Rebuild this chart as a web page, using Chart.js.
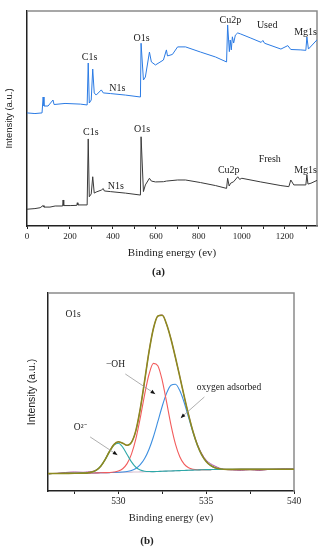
<!DOCTYPE html>
<html>
<head>
<meta charset="utf-8">
<script src="https://cdn.jsdelivr.net/npm/chart.js@4"></script>
<style>
  html, body { margin: 0; padding: 0; background: #fff; }
  canvas { position: absolute; left: 0; }
  #surveyChart { top: 0; }
  #o1sChart { top: 285px; }
</style>
</head>
<body>
<canvas id="surveyChart" width="326" height="285"></canvas>
<canvas id="o1sChart" width="326" height="265"></canvas>
<script>
// (a) survey spectra, binding energy (eV) vs intensity (a.u., 0-100)
const usedEnergy = [0, 37, 70, 75, 79, 98, 121, 126, 177, 248, 280, 285, 290, 299, 306, 313, 322, 346, 355, 388,
  458, 528, 531, 542, 551, 570, 579, 598, 635, 649, 654, 677, 701, 738, 808, 878, 929, 934, 942, 946,
  951, 956, 962, 970, 981, 995, 1042, 1090, 1098, 1106, 1182, 1214, 1228, 1275, 1298, 1303, 1310, 1354];
const usedIntensity = [52.6, 52.3, 52.6, 60.0, 55.8, 55.8, 58.6, 56.5, 57.0, 56.7, 56.3, 75.8, 57.2, 58.6, 73.0, 61.9, 60.9, 63.3, 61.9, 61.6,
  60.9, 60.0, 85.0, 67.9, 69.3, 80.9, 76.3, 74.9, 77.2, 81.9, 79.1, 79.8, 83.3, 83.3, 80.9, 78.6, 76.3, 93.5, 81.1, 86.5,
  81.9, 88.0, 85.1, 88.8, 89.8, 89.3, 87.4, 85.4, 86.3, 85.0, 82.3, 83.9, 82.1, 81.9, 81.7, 87.9, 82.3, 87.0];

const freshEnergy = [0, 37, 61, 75, 79, 107, 131, 166, 168, 171, 201, 232, 234, 237, 280, 285, 290, 299, 306, 313,
  322, 346, 355, 360, 388, 458, 528, 531, 542, 551, 570, 579, 598, 635, 649, 701, 738, 808, 878, 929,
  934, 941, 948, 962, 981, 990, 1000, 1088, 1182, 1219, 1228, 1242, 1298, 1303, 1308, 1322, 1354];
const freshIntensity = [7.8, 8.1, 8.5, 9.5, 8.8, 8.8, 9.3, 9.3, 12.1, 9.5, 9.5, 9.6, 10.8, 9.8, 9.8, 40.5, 13.6, 14.9, 22.9, 15.3,
  15.8, 16.7, 17.4, 16.3, 16.0, 15.3, 14.4, 41.5, 16.0, 19.1, 22.2, 20.9, 20.5, 20.6, 20.9, 21.4, 21.4, 20.2, 18.8, 17.5,
  22.2, 18.6, 19.9, 20.6, 22.9, 21.7, 22.2, 20.5, 18.8, 18.3, 21.4, 19.1, 19.1, 23.7, 19.5, 19.9, 21.4];

const surveyTickLabels = ["0", "200", "400", "600", "800", "1000", "1200"];

// (b) O1s region
const o1sEnergy = [526, 526.5, 527, 527.5,
  528, 528.25, 528.5, 528.75, 529, 529.25, 529.5, 529.75, 530, 530.25, 530.5, 530.75, 531, 531.25, 531.5, 531.75,
  532, 532.25, 532.5, 532.75, 533, 533.25, 533.5, 533.75, 534, 534.25, 534.5, 534.75, 535, 535.25, 535.5, 535.75, 536,
  536.5, 537, 537.5, 538, 538.5, 539, 539.5, 540];
const o1sRaw = [8.70, 8.95, 9.35, 9.60,
  9.45, 9.65, 9.85, 10.60, 12.40, 15.90, 20.10, 23.60, 24.70, 24.20, 23.00, 24.70, 30.40, 41.60, 55.50, 70.50,
  82.20, 88.20, 88.90, 84.10, 76.80, 67.40, 57.90, 47.70, 38.60, 30.20, 23.60, 18.90, 15.60, 13.80, 12.60, 11.60, 11.00,
  10.60, 10.40, 10.75, 10.35, 10.85, 11.10, 11.30, 11.20];
const o1sEnvelope = [8.80, 8.85, 8.90, 8.95,
  9.03, 9.17, 9.56, 10.52, 12.53, 15.85, 19.95, 23.43, 24.85, 24.13, 23.13, 24.56, 30.51, 41.41, 55.69, 70.36,
  82.07, 88.40, 88.76, 84.23, 76.64, 67.53, 57.75, 47.88, 38.44, 30.04, 23.24, 18.25, 14.93, 12.90, 11.79, 11.26, 11.02,
  10.90, 10.90, 10.92, 10.94, 10.95, 10.97, 10.98, 11.00];
const o1sBaseline = [8.80, 8.85, 8.90, 8.95,
  9.00, 9.05, 9.10, 9.15, 9.20, 9.25, 9.30, 9.35, 9.40, 9.45, 9.50, 9.55, 9.60, 9.65, 9.70, 9.75,
  9.80, 9.88, 9.97, 10.05, 10.13, 10.22, 10.30, 10.38, 10.47, 10.55, 10.63, 10.72, 10.80, 10.82, 10.83, 10.85, 10.86,
  10.88, 10.90, 10.92, 10.94, 10.95, 10.97, 10.98, 11.00];
const oxidePeak = [8.80, 8.85, 8.90, 8.95,
  9.03, 9.17, 9.56, 10.52, 12.53, 15.83, 19.89, 23.20, 24.14, 22.20, 18.48, 14.69, 11.99, 10.56, 9.98, 9.82,
  9.81, 9.88, 9.97, 10.05, 10.13, 10.22, 10.30, 10.38, 10.47, 10.55, 10.63, 10.72, 10.80, 10.82, 10.83, 10.85, 10.86,
  10.88, 10.90, 10.92, 10.94, 10.95, 10.97, 10.98, 11.00];
const hydroxylPeak = [8.80, 8.85, 8.90, 8.95,
  9.00, 9.05, 9.10, 9.15, 9.20, 9.27, 9.36, 9.57, 10.06, 11.25, 13.81, 18.60, 26.33, 36.88, 48.72, 58.96,
  64.44, 63.28, 55.91, 44.84, 33.32, 23.83, 17.33, 13.58, 11.75, 11.00, 10.77, 10.76, 10.81, 10.82, 10.83, 10.85, 10.86,
  10.88, 10.90, 10.92, 10.94, 10.95, 10.97, 10.98, 11.00];
const adsorbedPeak = [8.80, 8.85, 8.90, 8.95,
  9.00, 9.05, 9.10, 9.15, 9.20, 9.25, 9.30, 9.36, 9.45, 9.58, 9.84, 10.37, 11.39, 13.27, 16.39, 21.08,
  27.42, 35.00, 42.82, 49.44, 53.45, 53.92, 50.72, 44.68, 37.16, 29.59, 23.10, 18.21, 14.92, 12.90, 11.79, 11.26, 11.02,
  10.90, 10.90, 10.92, 10.94, 10.95, 10.97, 10.98, 11.00];

const o1sTickLabels = ["530", "535", "540"];

const toPoints = (xs, ys) => xs.map((x, i) => ({ x: x, y: ys[i] }));

Chart.defaults.font.family = "'Liberation Serif', 'DejaVu Serif', serif";
Chart.defaults.color = "#222";

// frame (top/right), arrows and peak labels
const notesPlugin = {
  id: "notes",
  beforeDatasetsDraw(chart) {
    const a = chart.chartArea, ctx = chart.ctx;
    ctx.save();
    ctx.strokeStyle = "#8a8a8a";
    ctx.lineWidth = 1.5;
    ctx.beginPath();
    ctx.moveTo(a.left, a.top);
    ctx.lineTo(a.right, a.top);
    ctx.lineTo(a.right, a.bottom);
    ctx.stroke();
    ctx.restore();
  },
  afterDatasetsDraw(chart, args, opts) {
    const { ctx, scales: { x, y } } = chart;
    ctx.save();
    (opts.arrows || []).forEach(ar => {
      const x1 = x.getPixelForValue(ar.from[0]), y1 = y.getPixelForValue(ar.from[1]);
      const x2 = x.getPixelForValue(ar.to[0]), y2 = y.getPixelForValue(ar.to[1]);
      ctx.strokeStyle = "#9a9a9a";
      ctx.lineWidth = 0.8;
      ctx.beginPath();
      ctx.moveTo(x1, y1);
      ctx.lineTo(x2, y2);
      ctx.stroke();
      const ang = Math.atan2(y2 - y1, x2 - x1);
      ctx.fillStyle = "#111";
      ctx.beginPath();
      ctx.moveTo(x2, y2);
      ctx.lineTo(x2 - 5 * Math.cos(ang - 0.4), y2 - 5 * Math.sin(ang - 0.4));
      ctx.lineTo(x2 - 5 * Math.cos(ang + 0.4), y2 - 5 * Math.sin(ang + 0.4));
      ctx.closePath();
      ctx.fill();
    });
    ctx.fillStyle = "#222";
    ctx.textAlign = "center";
    ctx.textBaseline = "middle";
    ctx.font = opts.font;
    (opts.labels || []).forEach(l => {
      ctx.fillText(l.text, x.getPixelForValue(l.at[0]), y.getPixelForValue(l.at[1]));
    });
    ctx.restore();
  }
};

// ---- (a) survey ----
new Chart(document.getElementById("surveyChart"), {
  type: "line",
  data: {
    datasets: [
      {
        label: "Used",
        data: toPoints(usedEnergy, usedIntensity),
        borderColor: "#2b7be4",
        borderWidth: 1,
        pointRadius: 0,
        tension: 0
      },
      {
        label: "Fresh",
        data: toPoints(freshEnergy, freshIntensity),
        borderColor: "#3a3a3a",
        borderWidth: 1,
        pointRadius: 0,
        tension: 0
      }
    ]
  },
  options: {
    responsive: false,
    animation: false,
    layout: { padding: { left: 0, top: 11, right: 9, bottom: 0 } },
    scales: {
      x: {
        type: "linear",
        min: 0,
        max: 1350,
        ticks: {
          stepSize: 100,
          includeBounds: false,
          autoSkip: false,
          maxRotation: 0,
          padding: 2,
          font: { size: 9 },
          callback: v => surveyTickLabels.includes(String(v)) ? String(v) : ""
        },
        grid: { display: true, drawOnChartArea: false, drawTicks: true, tickLength: 3, color: "#222" },
        border: { color: "#222", width: 1.5 },
        title: { display: true, text: "Binding energy (ev)", font: { size: 11 }, padding: { top: 0, bottom: 1.8 } },
        afterFit(scale) { scale.height = 35.4; }
      },
      y: {
        min: 0,
        max: 100,
        ticks: { display: false },
        grid: { display: false },
        border: { color: "#222", width: 1.5 },
        title: {
          display: true,
          text: "Intensity (a.u.)",
          font: { family: "'Liberation Sans', Arial, sans-serif", size: 9.5 },
          padding: { top: 4, bottom: 0 }
        },
        afterFit(scale) { scale.width = 27; }
      }
    },
    plugins: {
      legend: { display: false },
      tooltip: { enabled: false },
      title: {
        display: true,
        position: "bottom",
        text: "(a)",
        font: { size: 11, weight: "bold" },
        padding: { top: 4, bottom: 6.4 }
      },
      notes: {
        font: "10px 'Liberation Serif'",
        labels: [
          { text: "C1s", at: [291, 78.3] },
          { text: "N1s", at: [420, 63.8] },
          { text: "O1s", at: [533, 87.5] },
          { text: "Cu2p", at: [947, 95.6] },
          { text: "Used", at: [1118, 93.5] },
          { text: "Mg1s", at: [1297, 90.1] },
          { text: "C1s", at: [297, 43.4] },
          { text: "O1s", at: [536, 45.0] },
          { text: "N1s", at: [413, 18.4] },
          { text: "Cu2p", at: [939, 25.7] },
          { text: "Fresh", at: [1130, 31.0] },
          { text: "Mg1s", at: [1297, 25.7] }
        ]
      }
    }
  },
  plugins: [notesPlugin]
});

// ---- (b) O1s ----
const lineStyle = (color, width) => ({
  borderColor: color,
  borderWidth: width,
  pointRadius: 0,
  cubicInterpolationMode: "monotone",
  fill: false
});

new Chart(document.getElementById("o1sChart"), {
  type: "line",
  data: {
    datasets: [
      Object.assign({ label: "Fit", data: toPoints(o1sEnergy, o1sEnvelope) }, lineStyle("#8d8a1e", 1.6)),
      Object.assign({ label: "O2-", data: toPoints(o1sEnergy, oxidePeak) }, lineStyle("#2ea8a8", 1.1)),
      Object.assign({ label: "-OH", data: toPoints(o1sEnergy, hydroxylPeak) }, lineStyle("#f25c5c", 1.1)),
      Object.assign({ label: "oxygen adsorbed", data: toPoints(o1sEnergy, adsorbedPeak) }, lineStyle("#3d8fe0", 1.1)),
      Object.assign({ label: "Raw", data: toPoints(o1sEnergy, o1sRaw) }, lineStyle("#b14fa8", 1)),
      Object.assign({ label: "Background", data: toPoints(o1sEnergy, o1sBaseline) }, lineStyle("#d8bfd0", 1.1))
    ]
  },
  options: {
    responsive: false,
    animation: false,
    layout: { padding: { left: 0, top: 8, right: 32, bottom: 0 } },
    scales: {
      x: {
        type: "linear",
        min: 526,
        max: 540,
        ticks: {
          stepSize: 2.5,
          includeBounds: false,
          autoSkip: false,
          maxRotation: 0,
          padding: 1.5,
          font: { size: 9.5 },
          callback: v => o1sTickLabels.includes(String(v)) ? String(v) : ""
        },
        grid: { display: true, drawOnChartArea: false, drawTicks: true, tickLength: 3, color: "#222" },
        border: { color: "#222", width: 1.5 },
        title: { display: true, text: "Binding energy (ev)", font: { size: 10.5 }, padding: { top: 0, bottom: 6.1 } },
        afterFit(scale) { scale.height = 39.4; }
      },
      y: {
        min: 0,
        max: 100,
        ticks: { display: false },
        grid: { display: false },
        border: { color: "#222", width: 1.5 },
        title: {
          display: true,
          text: "Intensity (a.u.)",
          font: { family: "'Liberation Sans', Arial, sans-serif", size: 10.5 },
          padding: { top: 25.5, bottom: 0 }
        },
        afterFit(scale) { scale.width = 48; }
      }
    },
    plugins: {
      legend: { display: false },
      tooltip: { enabled: false },
      title: {
        display: true,
        position: "bottom",
        text: "(b)",
        font: { size: 11, weight: "bold" },
        padding: { top: 4, bottom: 2.4 }
      },
      notes: {
        font: "9.5px 'Liberation Serif'",
        arrows: [
          { from: [530.4, 59.1], to: [532.1, 49.0] },
          { from: [528.4, 27.3], to: [529.95, 18.2] },
          { from: [534.9, 47.5], to: [533.55, 36.9] }
        ],
        labels: [
          { text: "O1s", at: [527.43, 88.9] },
          { text: "\u2212OH", at: [529.84, 64.1] },
          { text: "oxygen adsorbed", at: [536.3, 52.5] },
          { text: "O\u00B2\u207B", at: [527.83, 32.3] }
        ]
      }
    }
  },
  plugins: [notesPlugin]
});
</script>
</body>
</html>
